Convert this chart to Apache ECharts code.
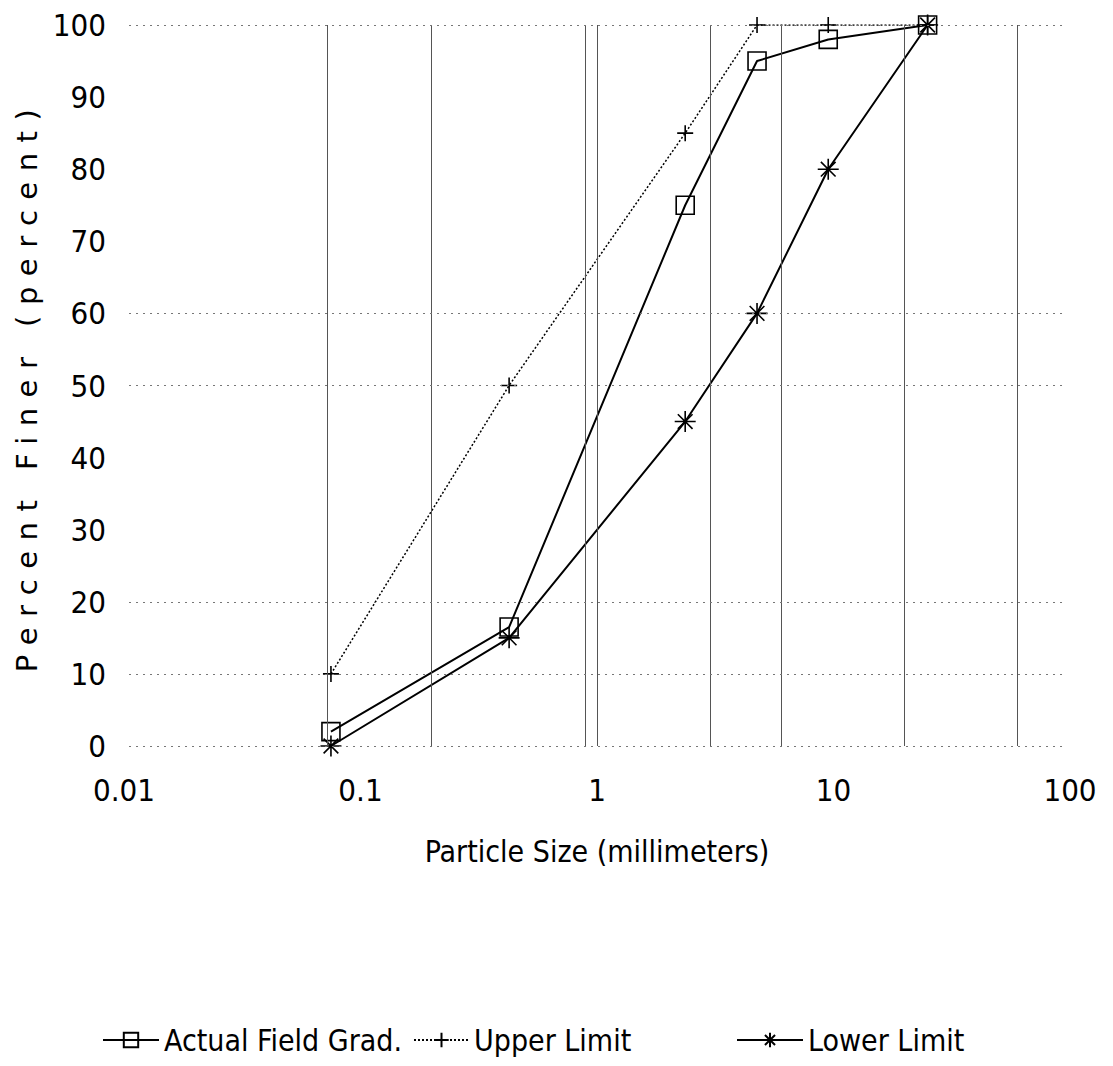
<!DOCTYPE html>
<html>
<head>
<meta charset="utf-8">
<script src="https://cdn.jsdelivr.net/npm/echarts@6/dist/echarts.min.js"></script>
<style>
  html, body { margin: 0; padding: 0; background: #fff; }
  #chart { width: 1113px; height: 1066px; }
</style>
</head>
<body>
<div id="chart"></div>
<script>
// ---- data ----
const particleSizes = [0.075, 0.425, 2.36, 4.75, 9.5, 25];      // mm
const actualField   = [2, 16.5, 75, 95, 98, 100];                 // % finer
const upperLimit    = [10, 50, 85, 100, 100, 100];
const lowerLimit    = [0, 15, 45, 60, 80, 100];
const seriesNames   = ['Actual Field Grad.', 'Upper Limit', 'Lower Limit'];
const yTitle        = 'Percent Finer (percent)';
const xTitle        = 'Particle Size (millimeters)';
const verticalRefs  = [0.072, 0.2, 0.89, 1, 3, 6, 20, 60];       // faint grid rules
const horizontalRefs = [0, 10, 20, 50, 60, 100];

const narrow = '"DejaVu Sans Condensed", "Liberation Sans Narrow", sans-serif';
const pairs = (ys) => particleSizes.map((x, i) => [x, ys[i]]);

const ASTERISK = 'path://M10,0L10,20M0,10L20,10M3,3L17,17M3,17L17,3';
const PLUS = 'path://M10,0L10,20M0,10L20,10';

const chart = echarts.init(document.getElementById('chart'), null, { renderer: 'svg' });

const legendBase = {
  orient: 'horizontal',
  top: 1020,
  itemHeight: 18,
  textStyle: { fontFamily: narrow, fontSize: 30, color: '#000' }
};

const markerStyle = { color: 'rgba(255,255,255,0)', borderColor: '#000', borderWidth: 1.6 };

chart.setOption({
  animation: false,
  backgroundColor: '#fff',
  grid: { left: 124, right: 43, top: 25, bottom: 320, containLabel: false },
  legend: [
    Object.assign({}, legendBase, { left: 97, itemWidth: 56, data: [seriesNames[0]] }),
    Object.assign({}, legendBase, { left: 408, itemWidth: 55, data: [seriesNames[1]] }),
    Object.assign({}, legendBase, { left: 731, itemWidth: 66, data: [seriesNames[2]] })
  ],
  xAxis: {
    type: 'log',
    logBase: 10,
    min: 0.01,
    max: 100,
    name: xTitle,
    nameLocation: 'middle',
    nameGap: 90,
    nameTextStyle: { fontFamily: narrow, fontSize: 30, color: '#000' },
    axisLine: { show: false },
    axisTick: { show: false },
    splitLine: { show: false },
    minorSplitLine: { show: false },
    axisLabel: {
      fontFamily: narrow, fontSize: 31, color: '#000', margin: 28,
      formatter: (v) => String(+v.toPrecision(6))
    }
  },
  yAxis: {
    type: 'value',
    min: 0,
    max: 100,
    interval: 10,
    name: yTitle,
    nameLocation: 'middle',
    nameRotate: 90,
    nameGap: 66,
    nameTextStyle: { fontFamily: '"DejaVu Sans", sans-serif', fontSize: 29, color: '#000', padding: [0, 0, 0, 0] },
    axisLine: { show: false },
    axisTick: { show: false },
    splitLine: { show: false },
    axisLabel: { fontFamily: narrow, fontSize: 31, color: '#000', margin: 18 }
  },
  series: [
    {
      name: 'refs',
      type: 'line',
      data: [],
      z: 1,
      silent: true,
      markLine: {
        silent: true,
        symbol: 'none',
        label: { show: false },
        animation: false,
        data: verticalRefs.map(v => [
          { coord: [v, 0], lineStyle: { color: '#555', width: 1, type: 'solid' } },
          { coord: [v, 100] }
        ]).concat(horizontalRefs.map(v => [
          { coord: [0.0105, v], lineStyle: { color: '#777', width: 1.2, type: [2, 5] } },
          { coord: [95, v] }
        ]))
      }
    },
    {
      name: seriesNames[0],
      type: 'line',
      z: 3,
      data: pairs(actualField),
      symbol: 'rect',
      symbolSize: 18,
      color: '#000',
      itemStyle: markerStyle,
      lineStyle: { color: '#000', width: 2, type: 'solid' }
    },
    {
      name: seriesNames[1],
      type: 'line',
      z: 3,
      data: pairs(upperLimit),
      symbol: PLUS,
      symbolSize: 16,
      color: '#000',
      itemStyle: markerStyle,
      lineStyle: { color: '#000', width: 1.5, type: [2, 2] }
    },
    {
      name: seriesNames[2],
      type: 'line',
      z: 3,
      data: pairs(lowerLimit),
      symbol: ASTERISK,
      symbolSize: 21,
      color: '#000',
      itemStyle: markerStyle,
      lineStyle: { color: '#000', width: 2, type: 'solid' }
    }
  ]
});

// widen the letter spacing of the y-axis title, as in the reference
function spaceTitle() {
  document.querySelectorAll('#chart text').forEach(t => {
    if (t.textContent === yTitle) t.style.letterSpacing = '10.5px';
  });
}
chart.on('finished', spaceTitle);
spaceTitle();
setTimeout(spaceTitle, 50);
</script>
</body>
</html>
